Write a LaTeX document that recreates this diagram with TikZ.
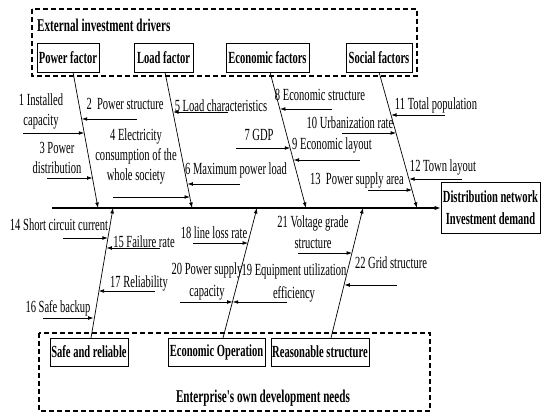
\documentclass[tikz,border=0pt]{standalone}
\usepackage{fontspec}
\setmainfont{Liberation Serif}[FakeStretch=0.62]
\usetikzlibrary{arrows.meta}
\begin{document}
\begin{tikzpicture}[x=1pt,y=-1pt,
  lbl/.style={font=\fontsize{17}{20}\selectfont, inner sep=0pt, align=center},
  hdr/.style={font=\bfseries\fontsize{18}{20}\selectfont, inner sep=0pt, align=center},
  fbox/.style={draw, line width=0.8pt, font=\bfseries\fontsize{17}{20}\selectfont, inner sep=1pt, align=center},
  dbox/.style={draw, dash pattern=on 5pt off 3pt, line width=1.6pt},
  bone/.style={line width=0.7pt, -{Latex[length=5.5pt,width=3.8pt]}},
  branch/.style={line width=0.8pt, -{Latex[length=5.5pt,width=3.8pt]}},
  spine/.style={line width=1.2pt, -{Latex[length=6pt,width=4.5pt]}}]
\useasboundingbox (0,0) rectangle (541,414);
% dashed groups
\draw[dbox] (32,9) rectangle (417,76);
\draw[dbox] (39,333) rectangle (430,411);
\node[hdr, anchor=west] (ext) at (37,25) {External investment drivers};
\node[hdr] (ent) at (263,398) {Enterprise{\addfontfeature{Ligatures=TeXOff}'}s own development needs};
% top boxes
\node[fbox, minimum width=62pt, minimum height=29pt] (pf) at (68,57.5) {Power factor};
\node[fbox, minimum width=59pt, minimum height=29pt] (lf) at (163.5,57.5) {Load factor};
\node[fbox, minimum width=83pt, minimum height=29pt] (ef) at (267.5,57.5) {Economic factors};
\node[fbox, minimum width=66pt, minimum height=29pt] (sf) at (379,57.5) {Social factors};
% bottom boxes
\node[fbox, minimum width=78pt, minimum height=28pt] (sr) at (89,352) {Safe and reliable};
\node[fbox, minimum width=97pt, minimum height=28pt] (eo) at (216.5,352) {Economic Operation};
\node[fbox, minimum width=98pt, minimum height=28pt] (rs) at (320,352) {Reasonable structure};
% output
\node[fbox, minimum width=99pt, minimum height=51pt, font=\bfseries\fontsize{17}{22}\selectfont] (out) at (490.5,207.5) {Distribution network\\Investment demand};
% spine
\coordinate (sp0) at (52,208);
\draw[spine] (sp0) -- (out.west |- sp0);
% bones
\coordinate (b1t) at (73,72);   \coordinate (b1s) at (98,208);
\coordinate (b2t) at (165,72);  \coordinate (b2s) at (192,208);
\coordinate (b3t) at (270,72);  \coordinate (b3s) at (306,208);
\coordinate (b4t) at (379,72);  \coordinate (b4s) at (417,208);
\coordinate (b5t) at (91,338);  \coordinate (b5s) at (113,208);
\coordinate (b6t) at (223,338); \coordinate (b6s) at (257,208);
\coordinate (b7t) at (331,338); \coordinate (b7s) at (363,208);
\foreach \i in {1,...,7} {\draw[bone] (b\i t) -- (b\i s);}
% branch arrows: start / tip
\coordinate (a1s) at (23,133);  \coordinate (a1e) at (84.3,133);
\coordinate (a2s) at (137,119); \coordinate (a2e) at (81.7,119);
\coordinate (a3s) at (47,178);  \coordinate (a3e) at (92.6,178);
\coordinate (a4s) at (113,197); \coordinate (a4e) at (190,197);
\coordinate (a5s) at (228,112); \coordinate (a5e) at (173,112);
\coordinate (a6s) at (240,184); \coordinate (a6e) at (187.4,184);
\coordinate (a7s) at (236,148); \coordinate (a7e) at (290.3,148);
\coordinate (a8s) at (332,109); \coordinate (a8e) at (279.9,109);
\coordinate (a9s) at (360,160); \coordinate (a9e) at (293.5,160);
\coordinate (a10s) at (342,133); \coordinate (a10e) at (396.2,133);
\coordinate (a11s) at (445,115); \coordinate (a11e) at (391.1,115);
\coordinate (a12s) at (462,179); \coordinate (a12e) at (409.1,179);
\coordinate (a13s) at (368,190); \coordinate (a13e) at (412.2,190);
\coordinate (a14s) at (63,238);  \coordinate (a14e) at (107.9,238);
\coordinate (a15s) at (160,248); \coordinate (a15e) at (106.4,248);
\coordinate (a16s) at (43,318);  \coordinate (a16e) at (93.7,318);
\coordinate (a17s) at (155,291); \coordinate (a17e) at (98.6,291);
\coordinate (a18s) at (193,243); \coordinate (a18e) at (248.1,243);
\coordinate (a20s) at (180,302); \coordinate (a20e) at (232.7,302);
\coordinate (a19s) at (287,302); \coordinate (a19e) at (232.7,302);
\coordinate (a21s) at (298,253); \coordinate (a21e) at (352.2,253);
\coordinate (a22s) at (397,285); \coordinate (a22e) at (344.3,285);
\foreach \i in {1,...,22} {\draw[branch] (a\i s) -- (a\i e);}
% labels
\node[lbl] (t1) at (41,111) {1 Installed\\capacity};
\node[lbl] (t2) at (125,104) {2\ \ Power structure};
\node[lbl] (t3) at (57,158) {3 Power\\distribution};
\node[lbl] (t4) at (136,156) {4 Electricity\\consumption of the\\whole society};
\node[lbl] (t5) at (221,106) {5 Load characteristics};
\node[lbl] (t6) at (236,170) {6 Maximum power load};
\node[lbl] (t7) at (259,135) {7 GDP};
\node[lbl] (t8) at (320,95) {8 Economic structure};
\node[lbl] (t9) at (332,145) {9 Economic layout};
\node[lbl] (t10) at (350,123) {10 Urbanization rate};
\node[lbl] (t11) at (436,105) {11 Total population};
\node[lbl] (t12) at (443,167) {12 Town layout};
\node[lbl] (t13) at (357,180) {13\ \ Power supply area};
\node[lbl] (t14) at (59,225) {14 Short circuit current};
\node[lbl] (t15) at (144,242) {15 Failure rate};
\node[lbl] (t16) at (58,308) {16 Safe backup};
\node[lbl] (t17) at (139,283) {17 Reliability};
\node[lbl] (t18) at (214,233) {18 line loss rate};
\node[lbl, font=\fontsize{17}{22}\selectfont] (t20) at (207,281) {20 Power supply\\capacity};
\node[lbl, font=\fontsize{17}{23}\selectfont] (t19) at (294,283) {19 Equipment utilization\\efficiency};
\node[lbl, font=\fontsize{17}{21}\selectfont] (t21) at (313,232) {21 Voltage grade\\structure};
\node[lbl] (t22) at (391,263) {22 Grid structure};
\end{tikzpicture}
\end{document}
